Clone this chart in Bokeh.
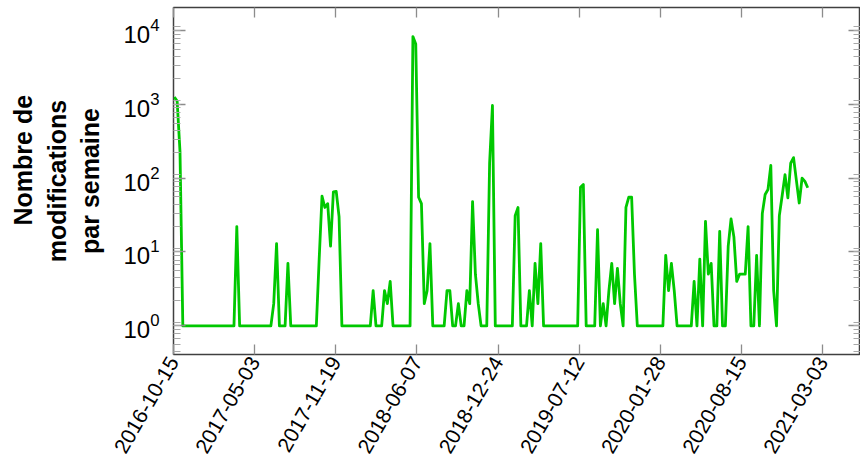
import pandas as pd
from math import pi
from bokeh.plotting import figure
from bokeh.models import (ColumnDataSource, FixedTicker, DatetimeTickFormatter,
                          LogAxis, DatetimeAxis, LogTicker, Range1d,
                          CustomJSTickFormatter)
from bokeh.embed import file_html
from bokeh.resources import INLINE

# ---- data ----
first_week = "2016-10-17"
edits_per_week = [
    1250, 1100, 230,
    1, 1, 1, 1, 1, 1, 1, 1, 1, 1, 1, 1, 1, 1, 1, 1, 1, 1, 1,
    22,
    1, 1, 1, 1, 1, 1, 1, 1, 1, 1, 1, 1,
    2, 13,
    1, 1, 1,
    7,
    1, 1, 1, 1, 1, 1, 1, 1, 1, 1,
    8, 57, 40, 45, 12, 65, 66, 30,
    1, 1, 1, 1, 1, 1, 1, 1, 1, 1, 1,
    3,
    1, 1, 1,
    3, 2, 4,
    1, 1, 1, 1, 1, 1, 1,
    8200, 6500, 55, 45, 2, 3, 13,
    1, 1, 1, 1, 1,
    3, 3, 1, 1, 2, 1, 1, 3, 2, 48, 5, 2,
    1, 1, 1,
    160, 960,
    1, 1, 1, 1, 1, 1, 1,
    31, 40,
    1, 1, 1,
    3, 1, 7, 2, 13,
    1, 1, 1, 1, 1, 1, 1, 1, 1, 1, 1, 1, 1,
    75, 82,
    1, 1, 1, 1,
    20, 1, 2, 1, 3, 7, 2, 6, 2, 1, 40, 55, 55, 5,
    1, 1, 1, 1, 1, 1, 1, 1, 1, 1,
    9, 3, 7, 3,
    1, 1, 1, 1, 1, 1,
    4, 1, 8, 1, 26, 5, 7, 1, 1, 19,
    1, 1, 12, 28, 16, 4, 5, 5, 5, 22,
    1, 1, 9, 1, 33, 60, 70, 148, 3, 1,
    31, 58, 111, 54, 159, 189, 93, 46, 100, 90,
    74,
]
tick_dates = ["2016-10-15", "2017-05-03", "2017-11-19", "2018-06-07",
              "2018-12-24", "2019-07-12", "2020-01-28", "2020-08-15",
              "2021-03-03"]
x_start, x_end = "2016-10-15", "2021-06-04"
y_min, y_max = 0.41, 20300
y_title_lines = ["\u00a0" * 6 + "Nombre de", "modifications", "par semaine"]

weeks = pd.date_range(first_week, periods=len(edits_per_week), freq="7D")
src = ColumnDataSource(dict(week=weeks, edits=edits_per_week))
tick_ms = [pd.Timestamp(d).value / 1e6 for d in tick_dates]

FONT = "Liberation Sans"
TICK_COL = "#8c8c8c"

p = figure(width=860, height=461, x_axis_type="datetime", y_axis_type="log",
           x_range=Range1d(pd.Timestamp(x_start), pd.Timestamp(x_end)),
           y_range=Range1d(y_min, y_max),
           output_backend="svg", toolbar_location=None,
           min_border_left=173, min_border_right=0, min_border_top=7,
           min_border_bottom=107)
p.background_fill_color = "white"
p.border_fill_color = "white"
p.outline_line_color = "#404040"
p.outline_line_width = 1.5
p.xgrid.visible = False
p.ygrid.visible = False

p.line("week", "edits", source=src, line_color="#00c800", line_width=2.8,
       line_join="round")

fmt = "%Y-%m-%d"
dt_fmt = DatetimeTickFormatter(microseconds=fmt, milliseconds=fmt, seconds=fmt,
                               minsec=fmt, minutes=fmt, hourmin=fmt, hours=fmt,
                               days=fmt, months=fmt, years=fmt)
blank = CustomJSTickFormatter(code="return ''")


def style_x(ax, labels=True):
    ax.ticker = FixedTicker(ticks=tick_ms)
    ax.axis_line_color = None
    ax.major_tick_in = 10
    ax.major_tick_out = 0
    ax.minor_tick_in = 0
    ax.minor_tick_out = 0
    ax.major_tick_line_color = TICK_COL
    ax.major_tick_line_width = 1.3
    if labels:
        ax.formatter = dt_fmt
        ax.major_label_text_font = FONT
        ax.major_label_text_font_size = "21px"
        ax.major_label_text_color = "black"
        ax.major_label_orientation = pi / 3
        ax.major_label_standoff = 4
    else:
        ax.formatter = blank
        ax.major_label_standoff = 0


def style_y(ax, labels=True):
    ax.ticker = LogTicker(num_minor_ticks=9)
    ax.axis_line_color = None
    ax.major_tick_in = 12
    ax.major_tick_out = 0
    ax.minor_tick_in = 7
    ax.minor_tick_out = 0
    ax.major_tick_line_color = TICK_COL
    ax.minor_tick_line_color = "#a8a8a8"
    ax.major_tick_line_width = 1.3
    ax.minor_tick_line_width = 1.1
    if labels:
        ax.major_label_text_font = FONT
        ax.major_label_text_font_size = "24px"
        ax.major_label_text_color = "black"
        ax.major_label_standoff = 14
    else:
        ax.formatter = blank
        ax.major_label_standoff = 0


style_x(p.xaxis[0])
style_y(p.yaxis[0])

top = DatetimeAxis()
style_x(top, labels=False)
p.add_layout(top, "above")

right = LogAxis()
style_y(right, labels=False)
p.add_layout(right, "right")

ya = p.yaxis[0]
ya.axis_label = "\n".join(y_title_lines)
ya.axis_label_text_font = FONT
ya.axis_label_text_font_size = "25px"
ya.axis_label_text_font_style = "bold"
ya.axis_label_text_color = "black"
ya.axis_label_standoff = 16

open("out.html", "w").write(file_html(p, INLINE))
